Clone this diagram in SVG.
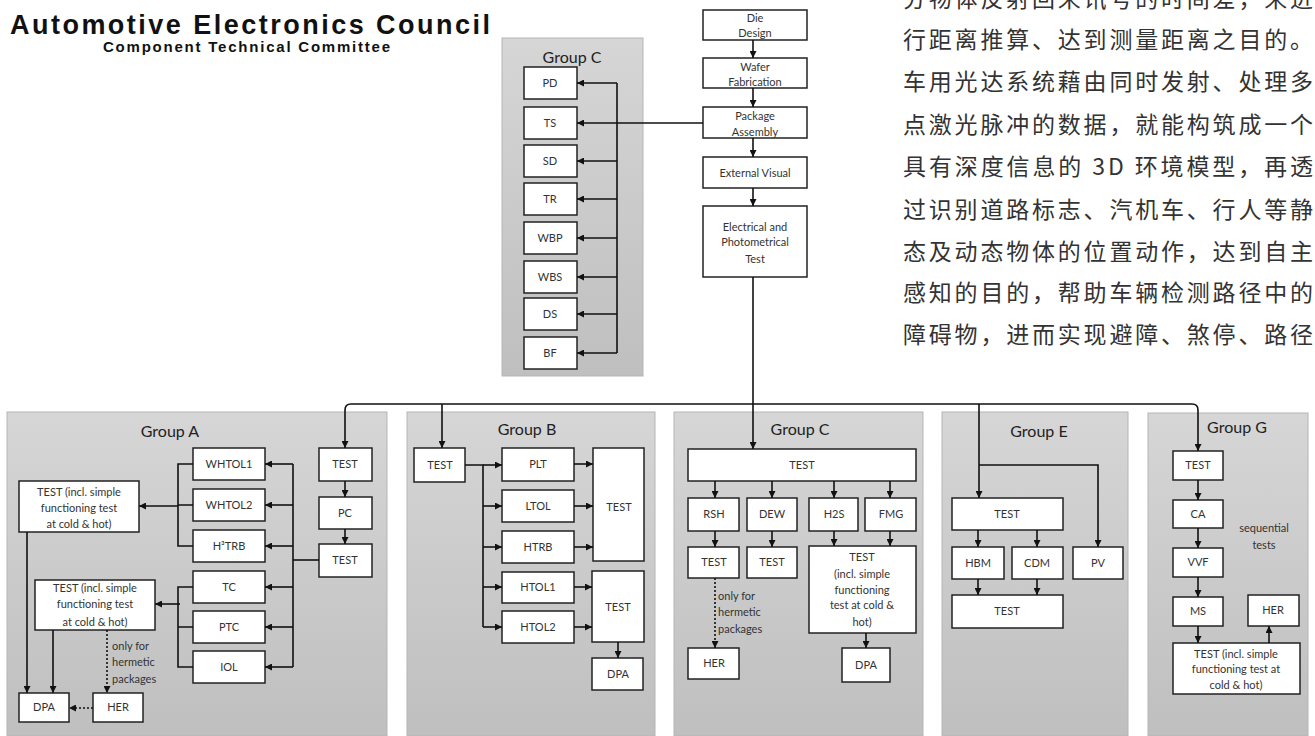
<svg xmlns="http://www.w3.org/2000/svg" width="1315" height="736" viewBox="0 0 1315 736">
<style>
.panel{fill:url(#pg);stroke:#b5b5b5;stroke-width:1}
.box{fill:#fff;stroke:#222;stroke-width:1.5}
.lbl{font-family:Lato,"Open Sans","Liberation Sans",sans-serif;font-size:11px;fill:#333;text-anchor:middle}
.note{font-family:Lato,"Open Sans","Liberation Sans",sans-serif;font-size:11px;fill:#333}
.ttl{font-family:Lato,"Open Sans","Liberation Sans",sans-serif;font-size:16px;fill:#222;text-anchor:middle}
.con{fill:none;stroke:#111;stroke-width:1.6}
.arr{marker-end:url(#ah)}
.dot{stroke-dasharray:2 2}
.cn{font-family:"Noto Sans CJK SC","Liberation Serif",sans-serif;font-size:23px;fill:#333}
.hd{font-family:"Liberation Sans",Arial,sans-serif;font-weight:bold;fill:#111}
</style>
<defs>
<linearGradient id="pg" x1="0" y1="0" x2="0" y2="1">
<stop offset="0" stop-color="#d6d6d6"/>
<stop offset="1" stop-color="#bfbfbf"/>
</linearGradient>
<marker id="ah" markerWidth="7" markerHeight="7" refX="7" refY="3.5" orient="auto" markerUnits="userSpaceOnUse">
<path d="M0,0 L7,3.5 L0,7 z" fill="#111"/>
</marker>
</defs>
<rect width="1315" height="736" fill="#fff"/>

<g id="header">
<text class="hd" x="10" y="34" font-size="27" textLength="480" lengthAdjust="spacing">Automotive Electronics Council</text>
<text class="hd" x="103" y="52" font-size="15" textLength="287" lengthAdjust="spacing">Component Technical Committee</text>
</g>

<g id="chinese-text">
<text class="cn" x="903" y="7" textLength="410" lengthAdjust="spacing">分物体反射回来讯号的时间差，来进</text>
<text class="cn" x="903" y="48" textLength="410" lengthAdjust="spacing">行距离推算、达到测量距离之目的。</text>
<text class="cn" x="903" y="90" textLength="410" lengthAdjust="spacing">车用光达系统藉由同时发射、处理多</text>
<text class="cn" x="903" y="133" textLength="410" lengthAdjust="spacing">点激光脉冲的数据，就能构筑成一个</text>
<text class="cn" x="903" y="175" textLength="410" lengthAdjust="spacing">具有深度信息的 3D 环境模型，再透</text>
<text class="cn" x="903" y="218" textLength="410" lengthAdjust="spacing">过识别道路标志、汽机车、行人等静</text>
<text class="cn" x="903" y="260" textLength="410" lengthAdjust="spacing">态及动态物体的位置动作，达到自主</text>
<text class="cn" x="903" y="301" textLength="410" lengthAdjust="spacing">感知的目的，帮助车辆检测路径中的</text>
<text class="cn" x="903" y="343" textLength="410" lengthAdjust="spacing">障碍物，进而实现避障、煞停、路径</text>
</g>

<!-- panels -->
<g id="panel-groupC-top"><rect class="panel" x="502" y="38" width="141" height="338"/><text class="ttl" x="572" y="63">Group C</text></g>
<g id="panel-groupA"><rect class="panel" x="7" y="412" width="380" height="324"/><text class="ttl" x="170" y="437">Group A</text></g>
<g id="panel-groupB"><rect class="panel" x="407" y="412" width="248" height="324"/><text class="ttl" x="527" y="435">Group B</text></g>
<g id="panel-groupC"><rect class="panel" x="674" y="412" width="249" height="324"/><text class="ttl" x="800" y="435">Group C</text></g>
<g id="panel-groupE"><rect class="panel" x="942" y="412" width="186" height="324"/><text class="ttl" x="1039" y="437">Group E</text></g>
<g id="panel-groupG"><rect class="panel" x="1148" y="413" width="160" height="323"/><text class="ttl" x="1237" y="433">Group G</text></g>

<!-- central flow -->
<g id="die-design"><rect class="box" x="703" y="10" width="104" height="30"/><text class="lbl" x="755" y="22">Die</text><text class="lbl" x="755" y="37">Design</text></g>
<g id="wafer-fab"><rect class="box" x="703" y="58" width="104" height="30"/><text class="lbl" x="755" y="71">Wafer</text><text class="lbl" x="755" y="86">Fabrication</text></g>
<g id="package-assembly"><rect class="box" x="703" y="107" width="104" height="31"/><text class="lbl" x="755" y="120">Package</text><text class="lbl" x="755" y="136">Assembly</text></g>
<g id="external-visual"><rect class="box" x="703" y="157" width="104" height="31"/><text class="lbl" x="755" y="177">External Visual</text></g>
<g id="electrical-test"><rect class="box" x="703" y="206" width="104" height="71"/><text class="lbl" x="755" y="231">Electrical and</text><text class="lbl" x="755" y="246">Photometrical</text><text class="lbl" x="755" y="263">Test</text></g>

<!-- top group C -->
<g id="c-pd"><rect class="box" x="524" y="67" width="53" height="32"/><text class="lbl" x="550" y="87">PD</text></g>
<g id="c-ts"><rect class="box" x="524" y="107" width="53" height="32"/><text class="lbl" x="550" y="127">TS</text></g>
<g id="c-sd"><rect class="box" x="524" y="145" width="53" height="32"/><text class="lbl" x="550" y="165">SD</text></g>
<g id="c-tr"><rect class="box" x="524" y="183" width="53" height="32"/><text class="lbl" x="550" y="203">TR</text></g>
<g id="c-wbp"><rect class="box" x="524" y="222" width="53" height="32"/><text class="lbl" x="550" y="242">WBP</text></g>
<g id="c-wbs"><rect class="box" x="524" y="261" width="53" height="32"/><text class="lbl" x="550" y="281">WBS</text></g>
<g id="c-ds"><rect class="box" x="524" y="298" width="53" height="32"/><text class="lbl" x="550" y="318">DS</text></g>
<g id="c-bf"><rect class="box" x="524" y="337" width="53" height="32"/><text class="lbl" x="550" y="357">BF</text></g>

<!-- group A -->
<g id="a-test1"><rect class="box" x="319" y="448" width="53" height="33"/><text class="lbl" x="345" y="468">TEST</text></g>
<g id="a-pc"><rect class="box" x="319" y="497" width="53" height="32"/><text class="lbl" x="345" y="517">PC</text></g>
<g id="a-test2"><rect class="box" x="319" y="544" width="53" height="33"/><text class="lbl" x="345" y="564">TEST</text></g>
<g id="a-whtol1"><rect class="box" x="193" y="448" width="72" height="32"/><text class="lbl" x="229" y="468">WHTOL1</text></g>
<g id="a-whtol2"><rect class="box" x="193" y="489" width="72" height="32"/><text class="lbl" x="229" y="509">WHTOL2</text></g>
<g id="a-h3trb"><rect class="box" x="193" y="530" width="72" height="32"/><text class="lbl" x="229" y="550">H³TRB</text></g>
<g id="a-tc"><rect class="box" x="193" y="571" width="72" height="32"/><text class="lbl" x="229" y="591">TC</text></g>
<g id="a-ptc"><rect class="box" x="193" y="611" width="72" height="32"/><text class="lbl" x="229" y="631">PTC</text></g>
<g id="a-iol"><rect class="box" x="193" y="651" width="72" height="32"/><text class="lbl" x="229" y="671">IOL</text></g>
<g id="a-ftest1"><rect class="box" x="19" y="481" width="120" height="51"/><text class="lbl" x="79" y="496">TEST (incl. simple</text><text class="lbl" x="79" y="512">functioning test</text><text class="lbl" x="79" y="528">at cold &amp; hot)</text></g>
<g id="a-ftest2"><rect class="box" x="35" y="580" width="120" height="50"/><text class="lbl" x="95" y="592">TEST (incl. simple</text><text class="lbl" x="95" y="608">functioning test</text><text class="lbl" x="95" y="626">at cold &amp; hot)</text></g>
<g id="a-dpa"><rect class="box" x="19" y="693" width="50" height="29"/><text class="lbl" x="44" y="711">DPA</text></g>
<g id="a-her"><rect class="box" x="93" y="693" width="50" height="29"/><text class="lbl" x="118" y="711">HER</text></g>
<g id="a-note"><text class="note" x="112" y="650">only for</text><text class="note" x="112" y="666">hermetic</text><text class="note" x="112" y="683">packages</text></g>

<!-- group B -->
<g id="b-test"><rect class="box" x="414" y="448" width="51" height="34"/><text class="lbl" x="440" y="469">TEST</text></g>
<g id="b-plt"><rect class="box" x="502" y="448" width="72" height="33"/><text class="lbl" x="538" y="468">PLT</text></g>
<g id="b-ltol"><rect class="box" x="502" y="490" width="72" height="32"/><text class="lbl" x="538" y="510">LTOL</text></g>
<g id="b-htrb"><rect class="box" x="502" y="531" width="72" height="32"/><text class="lbl" x="538" y="551">HTRB</text></g>
<g id="b-htol1"><rect class="box" x="502" y="572" width="72" height="31"/><text class="lbl" x="538" y="591">HTOL1</text></g>
<g id="b-htol2"><rect class="box" x="502" y="611" width="72" height="32"/><text class="lbl" x="538" y="631">HTOL2</text></g>
<g id="b-test-big"><rect class="box" x="593" y="448" width="51" height="113"/><text class="lbl" x="619" y="511">TEST</text></g>
<g id="b-test2"><rect class="box" x="592" y="571" width="52" height="71"/><text class="lbl" x="618" y="611">TEST</text></g>
<g id="b-dpa"><rect class="box" x="592" y="658" width="51" height="32"/><text class="lbl" x="618" y="678">DPA</text></g>

<!-- group C bottom -->
<g id="c2-test"><rect class="box" x="688" y="449" width="228" height="32"/><text class="lbl" x="802" y="469">TEST</text></g>
<g id="c2-rsh"><rect class="box" x="688" y="498" width="51" height="33"/><text class="lbl" x="714" y="518">RSH</text></g>
<g id="c2-dew"><rect class="box" x="747" y="498" width="50" height="33"/><text class="lbl" x="772" y="518">DEW</text></g>
<g id="c2-h2s"><rect class="box" x="809" y="498" width="49" height="33"/><text class="lbl" x="834" y="518">H2S</text></g>
<g id="c2-fmg"><rect class="box" x="865" y="498" width="51" height="33"/><text class="lbl" x="891" y="518">FMG</text></g>
<g id="c2-test-rsh"><rect class="box" x="688" y="547" width="51" height="31"/><text class="lbl" x="714" y="566">TEST</text></g>
<g id="c2-test-dew"><rect class="box" x="747" y="547" width="50" height="31"/><text class="lbl" x="772" y="566">TEST</text></g>
<g id="c2-test-big"><rect class="box" x="809" y="546" width="107" height="87"/><text class="lbl" x="862" y="561">TEST</text><text class="lbl" x="862" y="578">(incl. simple</text><text class="lbl" x="862" y="594">functioning</text><text class="lbl" x="862" y="609">test at cold &amp;</text><text class="lbl" x="862" y="626">hot)</text></g>
<g id="c2-dpa"><rect class="box" x="842" y="648" width="48" height="34"/><text class="lbl" x="866" y="669">DPA</text></g>
<g id="c2-her"><rect class="box" x="688" y="648" width="51" height="31"/><text class="lbl" x="714" y="667">HER</text></g>
<g id="c2-note"><text class="note" x="718" y="600">only for</text><text class="note" x="718" y="616">hermetic</text><text class="note" x="718" y="633">packages</text></g>

<!-- group E -->
<g id="e-test"><rect class="box" x="952" y="498" width="111" height="32"/><text class="lbl" x="1007" y="518">TEST</text></g>
<g id="e-hbm"><rect class="box" x="952" y="547" width="52" height="32"/><text class="lbl" x="978" y="567">HBM</text></g>
<g id="e-cdm"><rect class="box" x="1012" y="547" width="51" height="32"/><text class="lbl" x="1037" y="567">CDM</text></g>
<g id="e-pv"><rect class="box" x="1073" y="547" width="50" height="32"/><text class="lbl" x="1098" y="567">PV</text></g>
<g id="e-test2"><rect class="box" x="952" y="595" width="111" height="33"/><text class="lbl" x="1007" y="615">TEST</text></g>

<!-- group G -->
<g id="g-test"><rect class="box" x="1173" y="451" width="50" height="29"/><text class="lbl" x="1198" y="469">TEST</text></g>
<g id="g-ca"><rect class="box" x="1173" y="500" width="50" height="28"/><text class="lbl" x="1198" y="518">CA</text></g>
<g id="g-vvf"><rect class="box" x="1173" y="548" width="50" height="29"/><text class="lbl" x="1198" y="566">VVF</text></g>
<g id="g-ms"><rect class="box" x="1173" y="597" width="50" height="29"/><text class="lbl" x="1198" y="615">MS</text></g>
<g id="g-her"><rect class="box" x="1248" y="595" width="51" height="31"/><text class="lbl" x="1273" y="614">HER</text></g>
<g id="g-test2"><rect class="box" x="1173" y="643" width="127" height="51"/><text class="lbl" x="1236" y="658">TEST (incl. simple</text><text class="lbl" x="1236" y="673">functioning test at</text><text class="lbl" x="1236" y="689">cold &amp; hot)</text></g>
<g id="g-note"><text class="lbl" x="1264" y="532">sequential</text><text class="lbl" x="1264" y="549">tests</text></g>

<g id="connectors">
<!-- central flow -->
<line class="con arr" x1="753" y1="40" x2="753" y2="58"/>
<line class="con arr" x1="753" y1="88" x2="753" y2="107"/>
<line class="con arr" x1="753" y1="138" x2="753" y2="157"/>
<line class="con arr" x1="753" y1="188" x2="753" y2="206"/>
<line class="con arr" x1="753" y1="277" x2="753" y2="449"/>
<!-- top group C -->
<line class="con arr" x1="703" y1="123" x2="577" y2="123"/>
<line class="con" x1="617" y1="83" x2="617" y2="353"/>
<line class="con arr" x1="617" y1="83" x2="577" y2="83"/>
<line class="con arr" x1="617" y1="161" x2="577" y2="161"/>
<line class="con arr" x1="617" y1="199" x2="577" y2="199"/>
<line class="con arr" x1="617" y1="238" x2="577" y2="238"/>
<line class="con arr" x1="617" y1="277" x2="577" y2="277"/>
<line class="con arr" x1="617" y1="314" x2="577" y2="314"/>
<line class="con arr" x1="617" y1="353" x2="577" y2="353"/>
<!-- bus -->
<path class="con arr" d="M1192,404 Q1198,404 1198,410 V451"/>
<path class="con arr" d="M1192,404 H351 Q345,404 345,410 V448"/>
<line class="con arr" x1="442" y1="404" x2="442" y2="448"/>
<line class="con arr" x1="979" y1="404" x2="979" y2="498"/>
<path class="con arr" d="M979,465 H1098 V547"/>
<!-- group A -->
<line class="con arr" x1="345" y1="481" x2="345" y2="497"/>
<line class="con arr" x1="345" y1="529" x2="345" y2="544"/>
<line class="con" x1="319" y1="560" x2="293" y2="560"/>
<line class="con" x1="293" y1="464" x2="293" y2="667"/>
<line class="con arr" x1="293" y1="464" x2="265" y2="464"/>
<line class="con arr" x1="293" y1="505" x2="265" y2="505"/>
<line class="con arr" x1="293" y1="546" x2="265" y2="546"/>
<line class="con arr" x1="293" y1="587" x2="265" y2="587"/>
<line class="con arr" x1="293" y1="627" x2="265" y2="627"/>
<line class="con arr" x1="293" y1="667" x2="265" y2="667"/>
<path class="con" d="M193,464 H178 V546 H193 M178,505 H193"/>
<line class="con arr" x1="178" y1="506" x2="139" y2="506"/>
<path class="con" d="M193,587 H178 V667 H193 M178,627 H193"/>
<line class="con arr" x1="180" y1="604" x2="155" y2="604"/>
<line class="con arr" x1="27" y1="532" x2="27" y2="693"/>
<line class="con arr" x1="53" y1="630" x2="53" y2="693"/>
<line class="con dot arr" x1="107" y1="630" x2="107" y2="693"/>
<line class="con dot arr" x1="93" y1="708" x2="69" y2="708"/>
<!-- group B -->
<path class="con" d="M465,465 H483 V627"/>
<line class="con arr" x1="483" y1="465" x2="502" y2="465"/>
<line class="con arr" x1="483" y1="506" x2="502" y2="506"/>
<line class="con arr" x1="483" y1="547" x2="502" y2="547"/>
<line class="con arr" x1="483" y1="587" x2="502" y2="587"/>
<line class="con arr" x1="483" y1="627" x2="502" y2="627"/>
<line class="con arr" x1="574" y1="464" x2="593" y2="464"/>
<line class="con arr" x1="574" y1="506" x2="593" y2="506"/>
<line class="con arr" x1="574" y1="547" x2="593" y2="547"/>
<line class="con arr" x1="574" y1="587" x2="592" y2="587"/>
<line class="con arr" x1="574" y1="627" x2="592" y2="627"/>
<line class="con arr" x1="618" y1="642" x2="618" y2="658"/>
<!-- group C bottom -->
<line class="con arr" x1="715" y1="481" x2="715" y2="498"/>
<line class="con arr" x1="772" y1="481" x2="772" y2="498"/>
<line class="con arr" x1="834" y1="481" x2="834" y2="498"/>
<line class="con arr" x1="890" y1="481" x2="890" y2="498"/>
<line class="con arr" x1="715" y1="531" x2="715" y2="547"/>
<line class="con arr" x1="772" y1="531" x2="772" y2="547"/>
<line class="con arr" x1="834" y1="531" x2="834" y2="546"/>
<line class="con arr" x1="890" y1="531" x2="890" y2="546"/>
<line class="con arr" x1="866" y1="633" x2="866" y2="648"/>
<line class="con dot arr" x1="715" y1="578" x2="715" y2="648"/>
<!-- group E -->
<line class="con arr" x1="978" y1="530" x2="978" y2="547"/>
<line class="con arr" x1="1037" y1="530" x2="1037" y2="547"/>
<line class="con arr" x1="978" y1="579" x2="978" y2="595"/>
<line class="con arr" x1="1037" y1="579" x2="1037" y2="595"/>
<!-- group G -->
<line class="con arr" x1="1198" y1="480" x2="1198" y2="500"/>
<line class="con arr" x1="1198" y1="528" x2="1198" y2="548"/>
<line class="con arr" x1="1198" y1="577" x2="1198" y2="597"/>
<line class="con arr" x1="1198" y1="626" x2="1198" y2="643"/>
<line class="con arr" x1="1269" y1="643" x2="1269" y2="626"/>
</g>
</svg>
